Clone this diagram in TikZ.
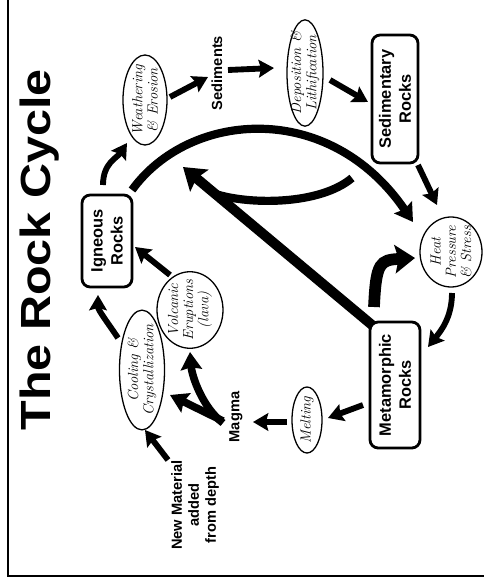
\documentclass[tikz,border=0pt]{standalone}
\usepackage{fontspec}
\setsansfont{Liberation Sans}
\usetikzlibrary{arrows.meta,shapes.geometric,calc}
\begin{document}
\begin{tikzpicture}[x=0.03cm,y=-0.03cm,
  box/.style={draw,line width=2.4pt,rounded corners=7pt,rotate=90,align=center,
    font=\sffamily\bfseries\fontsize{14}{17}\selectfont,inner sep=0pt},
  oval/.style={draw,ellipse,line width=1.1pt,rotate=90,align=center,
    font=\itshape\fontsize{12.5}{13}\selectfont,inner sep=-3pt},
  lbl/.style={rotate=90,align=center,font=\sffamily\bfseries\fontsize{12.5}{14.5}\selectfont,inner sep=0pt},
  arr/.style={line width=5pt,-{Stealth[length=13pt,width=15pt,inset=2pt]}},
  thickarr/.style={line width=6.5pt,-{Stealth[length=15pt,width=18pt,inset=2pt]}},
  bigarr/.style={line width=8.5pt,-{Stealth[length=18pt,width=24pt,inset=3pt]}},
  band/.style={line width=7pt}
]
\useasboundingbox (0,0) rectangle (484,584);
\draw[line width=1.6pt] (8,0) -- (8,576) -- (484,576);

% title
\node[rotate=90,anchor=base,inner sep=0pt,font=\sffamily\bfseries\fontsize{36}{40}\selectfont] (title) at (50,250) {\scalebox{1.15}[1]{The Rock Cycle}};

% nodes
\node[box,minimum width=2.76cm,minimum height=1.5cm] (ign) at (107,241) {Igneous\\Rocks};
\node[box,minimum width=3.84cm,minimum height=1.38cm] (sed) at (395,99) {Sedimentary\\Rocks};
\node[box,minimum width=3.78cm,minimum height=1.5cm] (met) at (395,385) {Metamorphic\\Rocks};

\node[oval,minimum width=2.7cm,minimum height=1.32cm] (weath) at (145,100) {Weathering\\\& Erosion};
\node[oval,minimum width=2.79cm,minimum height=1.08cm] (depo) at (305,73) {Deposition \&\\Lithification};
\node[oval,minimum width=2.1cm,minimum height=1.86cm] (heat) at (451,252) {Heat\\Pressure\\\& Stress};
\node[oval,minimum width=1.98cm,minimum height=0.9cm] (melt) at (307,420) {Melting};
\node[oval,minimum width=3.42cm,minimum height=1.35cm] (cool) at (142,370) {Cooling \&\\Crystallization};
\node[oval,minimum width=2.28cm,minimum height=1.98cm] (volc) at (190,310) {Volcanic\\Eruptions\\(lava)};

\node[lbl] (sedi) at (217,73) {Sediments};
\node[lbl] (magma) at (236,417) {Magma};
\node[lbl] (newmat) at (195,505) {New Material\\added\\from depth};

% cycle arrows
\draw[arr] ($(ign)+(-4,-56)$) .. controls +(0,-22) and +(-10,15) .. ($(weath)+(-18,43)$);
\draw[arr] ($(weath)+(25,-3)$) -- ($(sedi)+(-9,4)$);
\draw[arr] ($(sedi)+(11,-3)$) -- ($(depo)+(-31,-5)$);
\draw[arr] ($(depo)+(25,7)$) -- ($(sed)+(-27,3)$);
\draw[arr] ($(sed)+(23,66)$) -- ($(heat)+(-14,-47)$);
\draw[arr] ($(heat)+(1,41)$) .. controls +(0,25) and +(12,-15) .. ($(met)+(33,-38)$);
\draw[arr] ($(met)+(-32,20)$) -- ($(melt)+(21,-2)$);
\draw[arr] ($(melt)+(-20,2)$) -- ($(magma)+(17,5)$);
\draw[thickarr] ($(magma)+(-13,4)$) -- ($(cool)+(28,25)$);
\draw[thickarr] ($(magma)+(-13,6)$) .. controls +(-20,-15) and +(2,25) .. ($(volc)+(0,42)$);
\draw[arr] ($(volc)+(-20,-35)$) -- ($(ign)+(28,6)$);
\draw[arr] ($(cool)+(-24,-32)$) .. controls +(-10,-15) and +(0,15) .. ($(ign)+(-9,54)$);
\draw[arr] ($(newmat)+(-27,-45)$) -- ($(cool)+(3,60)$);

% big arc igneous -> heat
\draw[thickarr,line width=7pt] ($(ign)+(25,-51)$) .. controls +(58,-80) and +(-83,-122) .. ($(heat)+(-38,-30)$);

% metamorphic (and sedimentary) back toward weathering
\coordinate (mtail) at ($(met)+(-23,-60)$);
\coordinate (mtip) at ($(ign)+(76,-74)$);
\coordinate (merge) at ($(mtail)!0.83!(mtip)$);
\coordinate (bstart) at ($(sed)+(-43,79)$);
\draw[band] (bstart) .. controls (320,205) and (250,205) .. (merge);
\draw[bigarr] (mtail) -- (mtip);

% metamorphic -> heat
\draw[line width=10pt,-{Stealth[length=17pt,width=24pt,inset=3pt]}] ($(met)+(-21,-78)$) .. controls +(2,-45) and +(-35,2) .. ($(heat)+(-36,6)$);
\end{tikzpicture}
\end{document}
